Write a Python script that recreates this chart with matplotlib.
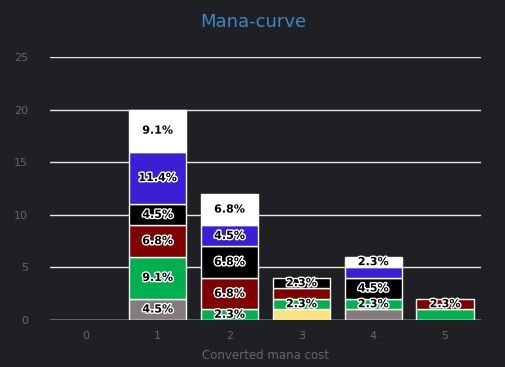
import numpy as np
import matplotlib.pyplot as plt
import matplotlib.patheffects as pe

# Mana cost buckets and card counts per colour (stacked bottom -> top)
costs = [0, 1, 2, 3, 4, 5]
colorless = [0, 2, 0, 0, 1, 0]
gold = [0, 0, 0, 1, 0, 0]
green = [0, 4, 1, 1, 1, 1]
red = [0, 3, 3, 1, 0, 1]
black = [0, 2, 3, 1, 2, 0]
blue = [0, 5, 2, 0, 1, 0]
white = [0, 4, 3, 0, 1, 0]

series = [
    ("Colorless", colorless, "#857b7d"),
    ("Gold", gold, "#fde17c"),
    ("Green", green, "#00b04f"),
    ("Red", red, "#7e0000"),
    ("Black", black, "#000000"),
    ("Blue", blue, "#3a1fd5"),
    ("White", white, "#ffffff"),
]

# labels hidden by overlap in the original
hidden = {("Gold", 3), ("Red", 3), ("Colorless", 4), ("Blue", 4), ("Green", 5)}

total = sum(sum(s[1]) for s in series)

bg = "#1f2024"
fig = plt.figure(figsize=(5.06, 3.67), dpi=100, facecolor=bg)
ax = fig.add_axes([50 / 506, 1 - 320 / 367, 431 / 506, 263 / 367], facecolor=bg)

bottom = np.zeros(len(costs))
for name, vals, col in series:
    vals = np.array(vals, dtype=float)
    nz = vals > 0
    ax.bar(np.array(costs)[nz], vals[nz], bottom=bottom[nz], width=0.8, color=col,
           edgecolor="white", linewidth=1, zorder=3)
    for x, v, b in zip(costs, vals, bottom):
        if v > 0 and (name, x) not in hidden:
            t = ax.text(x, b + v / 2, f"{v / total * 100:.1f}%", ha="center",
                        va="center", fontsize=8, fontweight="bold",
                        color="black", zorder=5)
            t.set_path_effects([pe.withStroke(linewidth=2, foreground="white")])
    bottom += vals

ax.set_xlim(-0.5, 5.5)
ax.set_ylim(0, 25)
ax.set_yticks([0, 5, 10, 15, 20, 25])
ax.set_xticks(costs)
ax.grid(axis="y", color="#e6e6e6", linewidth=1, zorder=0)
for s in ax.spines.values():
    s.set_visible(False)
ax.axhline(0, color="#ccd6eb", linewidth=1, zorder=4)
ax.tick_params(colors="#666666", labelsize=8, length=0)
ax.tick_params(axis="y", pad=16)
ax.tick_params(axis="x", pad=8)
ax.set_xlabel("Converted mana cost", color="#666666", fontsize=8.5, labelpad=6)

fig.suptitle("Mana-curve", color="#3d85c6", fontsize=13, y=1 - 22 / 367, va="center")

fig.savefig("out.png", dpi=100, facecolor=bg)
